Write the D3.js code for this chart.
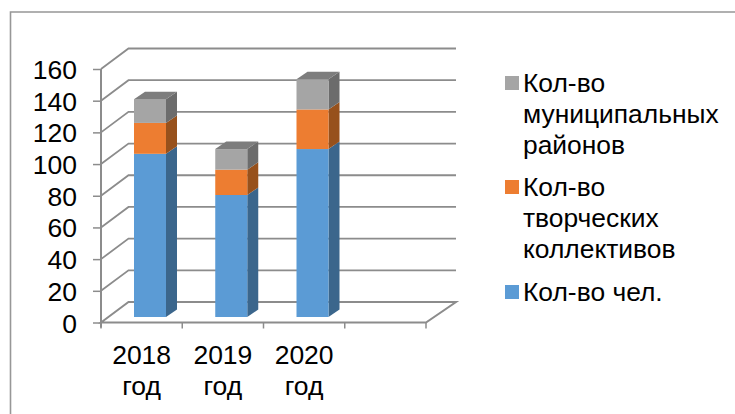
<!DOCTYPE html>
<html>
<head>
<meta charset="utf-8">
<script src="https://cdn.jsdelivr.net/npm/d3@7"></script>
<style>
html, body { margin: 0; padding: 0; background: #fff; }
svg { display: block; }
text { font-family: "Liberation Sans", Arial, sans-serif; fill: #000; }
</style>
</head>
<body>
<svg id="chart"></svg>
<script>
var width = 735,
	height = 414;

var categories = ["2018", "2019", "2020", ""];
var categoryUnit = "год";
var people = [103, 77, 106];
var collectives = [19.5, 16, 25];
var districts = [15, 13, 19];
var yTicks = [0, 20, 40, 60, 80, 100, 120, 140, 160];
var legendLabels = [
	["Кол-во", "муниципальных", "районов"],
	["Кол-во", "творческих", "коллективов"],
	["Кол-во чел."]
];

// front, side and top shades per series
var seriesList = [
	{ values: people, front: "#5b9bd5", side: "#3b668c", top: "#47789f" },
	{ values: collectives, front: "#ed7d31", side: "#97511c", top: "#b0601f" },
	{ values: districts, front: "#a5a5a5", side: "#6c6c6c", top: "#7d7d7d" }
];

var svg = d3.select("#chart").attr("width", width).attr("height", height);

// outer frame, cropped on the right and bottom
svg.append("path")
	.attr("d", "M10.5,414V12H735")
	.attr("fill", "none")
	.attr("stroke", "#979797")
	.attr("stroke-width", 1.6);

var x = d3.scaleBand().domain(d3.range(categories.length)).range([101, 426]);
var y = d3.scaleLinear().domain([0, 160]).range([322.5, 69]);

// depth of the floor and of the bars
var wallDx = 27.5, wallDy = -20.5, wallRight = 456;
var barDx = 11, barDy = -7.5;
var barInset = 33, barWidth = 32, barFrontOffset = -5.5;

var grey = "#8c8c8c";

var grid = svg.append("g").attr("fill", "none").attr("stroke", grey).attr("stroke-width", 1.8);
yTicks.forEach(function(t) {
	grid.append("path")
		.attr("stroke", t === 0 ? "none" : grey)
		.attr("d", "M" + x.range()[0] + "," + y(t) +
			"L" + (x.range()[0] + wallDx) + "," + (y(t) + wallDy) +
			"H" + wallRight);
});

// floor
grid.append("path")
	.attr("stroke-width", 2)
	.attr("d", "M" + x.range()[0] + "," + y(0) +
		"L" + (x.range()[0] + wallDx) + "," + (y(0) + wallDy) +
		"H" + wallRight +
		"L" + x.range()[1] + "," + y(0) + "Z");

// axes
var yAxis = d3.axisLeft(y).tickValues(yTicks).tickSize(8).tickPadding(16);
var yG = svg.append("g").attr("transform", "translate(" + x.range()[0] + ",0)").call(yAxis);
yG.selectAll("text").style("font-size", "26.5px").attr("dy", "0.36em");
yG.selectAll("line").attr("stroke", grey).attr("stroke-width", 1.5);
yG.select(".domain").attr("stroke", grey).attr("stroke-width", 2).attr("d", "M0," + y(160) + "V" + (y(0) + 5));

var tickGroup = svg.append("g").attr("stroke", grey).attr("stroke-width", 1.5);
d3.range(categories.length + 1).forEach(function(i) {
	var px = x.range()[0] + i * x.bandwidth();
	tickGroup.append("line").attr("x1", px).attr("x2", px).attr("y1", y(0)).attr("y2", y(0) + 6);
});

// stacked 3d bars
var bars = svg.append("g");
people.forEach(function(d, i) {
	var base = 0;
	var x0 = x(i) + barInset, x1 = x0 + barWidth;
	seriesList.forEach(function(s, k) {
		var v = s.values[i];
		var yBottom = y(base) + barFrontOffset, yTop = y(base + v) + barFrontOffset;
		bars.append("path").attr("fill", s.side)
			.attr("d", "M" + x1 + "," + yBottom + "l" + barDx + "," + barDy +
				"V" + (yTop + barDy) + "L" + x1 + "," + yTop + "Z");
		bars.append("rect").attr("fill", s.front)
			.attr("x", x0).attr("y", yTop)
			.attr("width", barWidth).attr("height", yBottom - yTop);
		if (k === seriesList.length - 1) {
			bars.append("path").attr("fill", s.top)
				.attr("d", "M" + x0 + "," + yTop + "l" + barDx + "," + barDy +
					"H" + (x1 + barDx) + "L" + x1 + "," + yTop + "Z");
		}
		base += v;
	});
});

// category labels
var catG = svg.append("g").attr("text-anchor", "middle");
categories.forEach(function(c, i) {
	if (!c) return;
	var cx = x(i) + x.bandwidth() / 2;
	catG.append("text").attr("x", cx).attr("y", 364).style("font-size", "26.5px").text(c);
	catG.append("text").attr("x", cx).attr("y", 395).style("font-size", "26.5px").text(categoryUnit);
});

// legend
var legendColors = [seriesList[2].front, seriesList[1].front, seriesList[0].front];
var legendTops = [84, 188, 293];
var lineGap = 31;
legendLabels.forEach(function(lines, i) {
	var g = svg.append("g");
	g.append("rect").attr("x", 505).attr("y", legendTops[i] - 8)
		.attr("width", 14).attr("height", 14).attr("fill", legendColors[i]);
	lines.forEach(function(t, j) {
		g.append("text").attr("x", 523).attr("y", legendTops[i] + 8 + j * lineGap)
			.style("font-size", "26.4px").text(t);
	});
});
</script>
</body>
</html>
